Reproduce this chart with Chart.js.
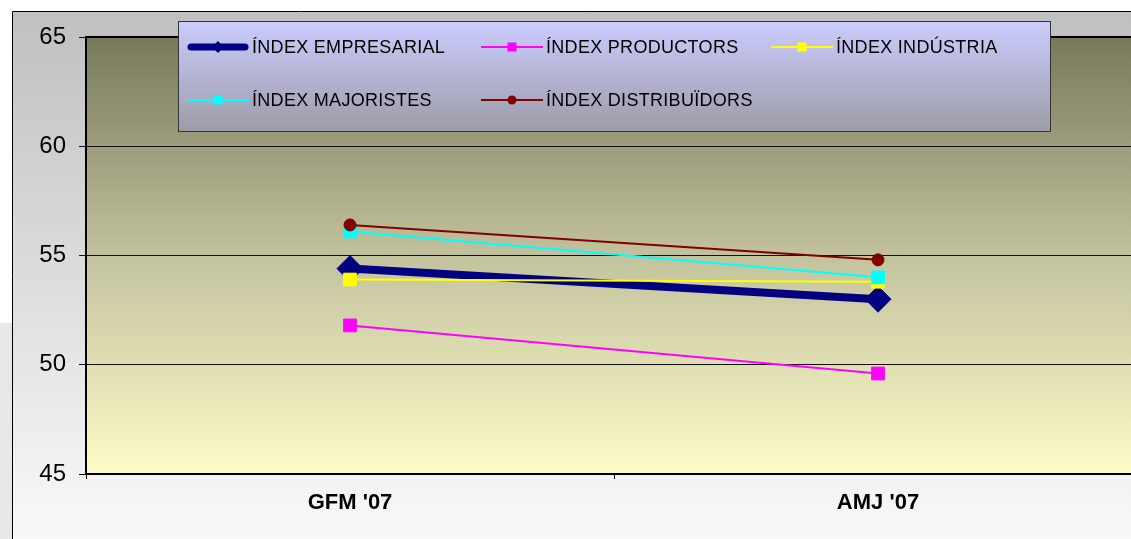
<!DOCTYPE html>
<html>
<head>
<meta charset="utf-8">
<script src="https://cdn.jsdelivr.net/npm/chart.js@4.4.0/dist/chart.umd.min.js"></script>
<style>
  html, body { margin: 0; padding: 0; overflow: hidden; background: #fff; }
  #wrap { width: 1131px; height: 539px; overflow: hidden; }
</style>
</head>
<body>
<div id="wrap"><canvas id="chart" width="1160" height="539"></canvas></div>
<script>
const periods = ["GFM '07", "AMJ '07"];
const yTicks = [45, 50, 55, 60, 65];

const empresarial = [54.4, 53.0];
const productors = [51.8, 49.6];
const industria = [53.9, 53.8];
const majoristes = [56.1, 54.0];
const distribuidors = [56.4, 54.8];

const seriesNames = ['ÍNDEX EMPRESARIAL', 'ÍNDEX PRODUCTORS', 'ÍNDEX INDÚSTRIA', 'ÍNDEX MAJORISTES', 'ÍNDEX DISTRIBUÏDORS'];

// background frame, plot fill and border
const framePlugin = {
  id: 'frame',
  beforeDraw(chart) {
    const ctx = chart.ctx, a = chart.chartArea;
    const w = chart.width, h = chart.height;
    ctx.save();
    ctx.fillStyle = '#ffffff';
    ctx.fillRect(0, 0, w, h);
    ctx.fillStyle = '#e8e8e8';
    ctx.fillRect(0, 323, 12, h - 323);

    let g = ctx.createLinearGradient(0, 12, 0, h);
    g.addColorStop(0, '#c0c0c0');
    g.addColorStop(1, '#f9f9f9');
    ctx.fillStyle = g;
    ctx.fillRect(12, 12, w - 12, h - 12);
    ctx.strokeStyle = '#000';
    ctx.lineWidth = 1;
    ctx.beginPath();
    ctx.moveTo(12.5, h);
    ctx.lineTo(12.5, 11.5);
    ctx.lineTo(w, 11.5);
    ctx.stroke();

    g = ctx.createLinearGradient(0, a.top, 0, a.bottom);
    g.addColorStop(0, '#78785c');
    g.addColorStop(0.5, '#c2c29e');
    g.addColorStop(1, '#fefcc8');
    ctx.fillStyle = g;
    ctx.fillRect(a.left, a.top, a.right - a.left, a.bottom - a.top);
    ctx.restore();
  },
  afterDraw(chart) {
    const ctx = chart.ctx, a = chart.chartArea;
    ctx.save();
    ctx.strokeStyle = '#000';
    ctx.lineWidth = 2;
    ctx.beginPath();
    ctx.moveTo(a.right, a.top);
    ctx.lineTo(a.left, a.top);
    ctx.lineTo(a.left, a.bottom);
    ctx.lineTo(a.right, a.bottom);
    ctx.stroke();
    ctx.restore();
  }
};

// boxed legend sitting over the top of the plot
const legendBox = {
  id: 'legendBox',
  afterDraw(chart) {
    const ctx = chart.ctx;
    const bx = 178, by = 21, bw = 872, bh = 110;
    ctx.save();
    const g = ctx.createLinearGradient(0, by, 0, by + bh);
    g.addColorStop(0, '#ccccff');
    g.addColorStop(1, '#9c9ca8');
    ctx.fillStyle = g;
    ctx.fillRect(bx, by, bw, bh);
    ctx.strokeStyle = '#333';
    ctx.lineWidth = 1;
    ctx.strokeRect(bx + 0.5, by + 0.5, bw, bh);

    const cols = [187, 481, 771];
    const rows = [47, 100];
    ctx.font = '18px Arial, "Liberation Sans", sans-serif';
    ctx.letterSpacing = '0.3px';
    ctx.textBaseline = 'middle';
    ctx.textAlign = 'left';
    chart.data.datasets.forEach((ds, i) => {
      const x = cols[i % 3], y = rows[Math.floor(i / 3)];
      const len = 62, mx = x + len / 2;
      ctx.strokeStyle = ds.borderColor;
      ctx.fillStyle = ds.borderColor;
      ctx.lineWidth = i === 0 ? 7 : 2;
      ctx.lineCap = i === 0 ? 'round' : 'butt';
      ctx.beginPath();
      ctx.moveTo(x + (i === 0 ? 4 : 0), y);
      ctx.lineTo(x + len - (i === 0 ? 4 : 0), y);
      ctx.stroke();
      ctx.beginPath();
      if (ds.pointStyle === 'rectRot') {
        ctx.moveTo(mx - 6, y); ctx.lineTo(mx, y - 6); ctx.lineTo(mx + 6, y); ctx.lineTo(mx, y + 6);
        ctx.closePath();
      } else if (ds.pointStyle === 'circle') {
        ctx.arc(mx, y, 4.5, 0, Math.PI * 2);
      } else {
        ctx.rect(mx - 4.5, y - 4.5, 9, 9);
      }
      ctx.fill();
      ctx.fillStyle = '#000';
      ctx.fillText(ds.label, x + len + 3, y + 1);
    });
    ctx.restore();
  }
};

function line(label, data, color, width, style, radius, order) {
  return {
    label: label,
    data: data,
    borderColor: color,
    backgroundColor: color,
    borderWidth: width,
    pointStyle: style,
    pointRadius: radius,
    pointBorderWidth: 1,
    pointBackgroundColor: color,
    pointBorderColor: color,
    tension: 0,
    order: order
  };
}

new Chart(document.getElementById('chart'), {
  type: 'line',
  data: {
    labels: periods,
    datasets: [
      line(seriesNames[0], empresarial, '#000080', 8, 'rectRot', 13, 5),
      line(seriesNames[1], productors, '#ff00ff', 2, 'rect', 9, 4),
      line(seriesNames[2], industria, '#ffff00', 2, 'rect', 9, 3),
      line(seriesNames[3], majoristes, '#00ffff', 2, 'rect', 9, 2),
      line(seriesNames[4], distribuidors, '#800000', 2, 'circle', 6, 1)
    ]
  },
  options: {
    responsive: false,
    devicePixelRatio: 1,
    animation: false,
    layout: { padding: { top: 37, right: 18, left: 0, bottom: 0 } },
    plugins: { legend: { display: false }, tooltip: { enabled: false } },
    scales: {
      y: {
        min: yTicks[0],
        max: yTicks[yTicks.length - 1],
        afterBuildTicks: s => { s.ticks = yTicks.map(v => ({ value: v })); },
        afterFit: s => { s.width = 86; },
        border: { display: false },
        grid: { color: '#111', lineWidth: 1, tickLength: 7 },
        ticks: {
          color: '#000',
          padding: 13,
          font: { family: 'Arial, "Liberation Sans", sans-serif', size: 24 }
        }
      },
      x: {
        offset: true,
        afterFit: s => { s.height = 65; },
        border: { display: false },
        grid: { offset: true, drawOnChartArea: false, color: '#000', tickLength: 5 },
        ticks: {
          color: '#000',
          padding: 11,
          font: { family: 'Arial, "Liberation Sans", sans-serif', size: 22, weight: 'bold' }
        }
      }
    }
  },
  plugins: [framePlugin, legendBox]
});
</script>
</body>
</html>
